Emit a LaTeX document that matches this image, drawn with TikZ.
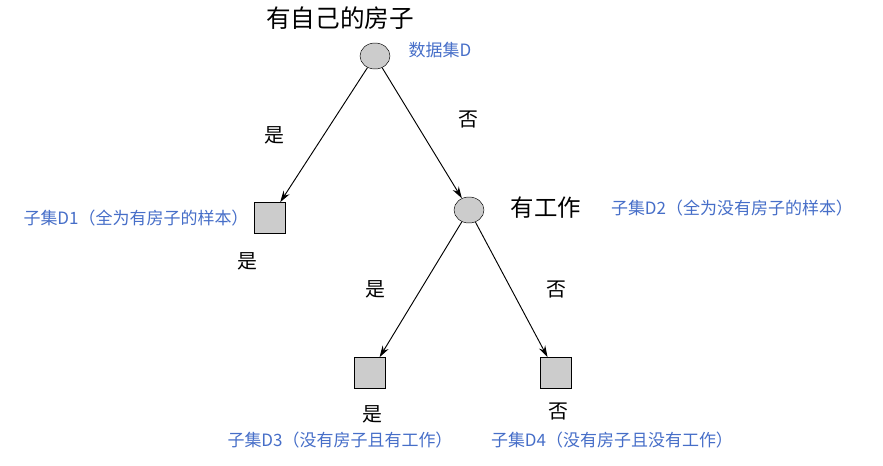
\documentclass[tikz,border=0pt]{standalone}
\usepackage{fontspec}
\newfontfamily\cjk{Noto Sans CJK SC}
\usetikzlibrary{positioning,shapes,arrows,arrows.meta}
\definecolor{setblue}{RGB}{70,110,200}
\begin{document}
\begin{tikzpicture}[x=0.03cm, y=-0.03cm, font=\cjk,
    feat/.style={draw, ellipse, fill=black!20, minimum width=30*0.03cm, minimum height=26*0.03cm, inner sep=0pt},
    leaf/.style={draw, rectangle, fill=black!20, minimum size=31*0.03cm, inner sep=0pt},
    lbl/.style={font=\cjk\fontsize{17}{19}\selectfont},
    set/.style={text=setblue, font=\cjk\fontsize{14.5}{16}\selectfont},
    edge/.style={-{Stealth[length=10pt,width=6pt]}, line width=0.8pt}]
\useasboundingbox (0,0) rectangle (883,465);
% nodes
\node[feat] (root) at (375,56) {};
\node[leaf] (l1) at (270,218) {};
\node[feat] (work) at (469,210) {};
\node[leaf] (l3) at (370,373) {};
\node[leaf] (l4) at (556,373) {};
% labels
\node[lbl, font=\cjk\fontsize{21}{23}\selectfont] (tRoot) at (340,18) {有自己的房子};
\node[set] (dD) at (440,50) {数据集D};
\node[lbl, font=\cjk\fontsize{20}{22}\selectfont] (tWork) at (546,208) {有工作};
\node[set] (dD1) at (136,218) {子集D1（全为有房子的样本）};
\node[set] (dD2) at (732,208) {子集D2（全为没有房子的样本）};
\node[set] (dD3) at (340,440) {子集D3（没有房子且有工作）};
\node[set] (dD4) at (612,440) {子集D4（没有房子且没有工作）};
\node[lbl] (y1) at (247,261) {是};
\node[lbl] (y3) at (372,414) {是};
\node[lbl] (n4) at (558,411) {否};
% edges
\draw[edge] (root) -- node[lbl, pos=0.5, left=30pt] {是} (l1);
\draw[edge] (root) -- node[lbl, pos=0.4, right=34pt] {否} (work);
\draw[edge] (work) -- node[lbl, pos=0.5, left=26pt] {是} (l3);
\draw[edge] (work) -- node[lbl, pos=0.5, right=26pt] {否} (l4);
\end{tikzpicture}
\end{document}
